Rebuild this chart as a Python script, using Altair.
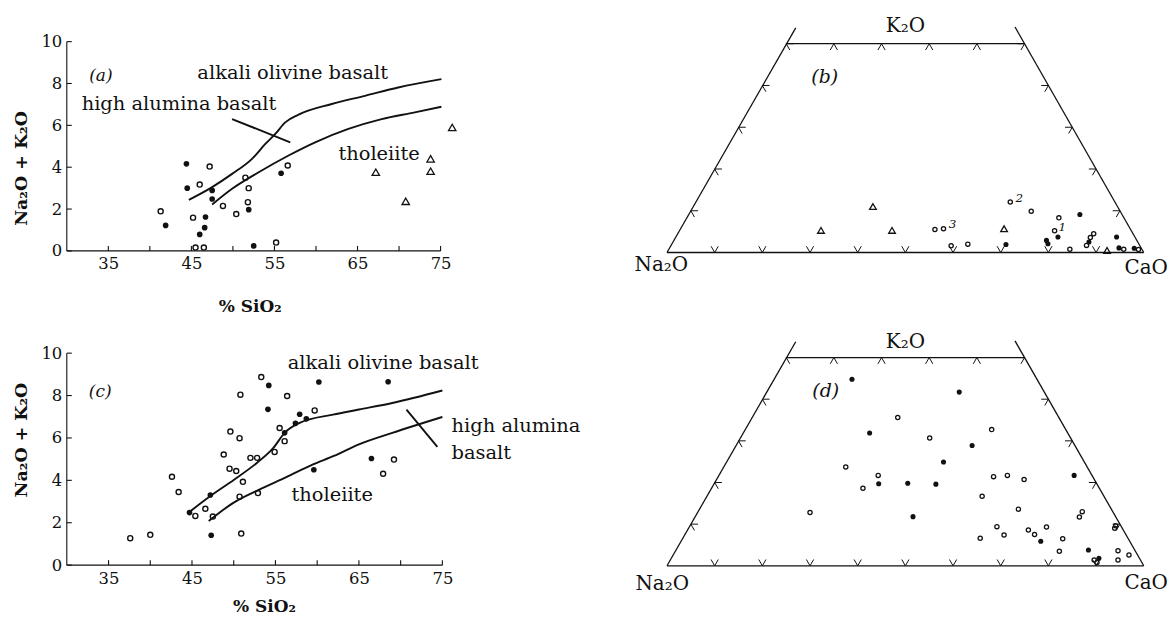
import altair as alt
import pandas as pd

FONT = "DejaVu Serif"
INK = "#111111"

# ---------------- shared axis values ----------------
sio2_labels = [35, 45, 55, 65, 75]
sio2_ticks = [35, 40, 45, 50, 55, 60, 65, 70, 75]
alk_ticks = [0, 2, 4, 6, 8, 10]

# ---------------- panel (a) ----------------
a_open_x = [47.2, 46.0, 48.8, 51.5, 51.9, 51.8, 50.4, 41.3, 45.2, 45.5, 46.5, 55.2, 56.6]
a_open_y = [4.03, 3.17, 2.15, 3.50, 3.00, 2.33, 1.76, 1.89, 1.59, 0.16, 0.16, 0.40, 4.08]
a_fill_x = [44.4, 44.5, 47.5, 47.5, 51.9, 41.9, 46.7, 46.6, 46.0, 52.5, 55.8]
a_fill_y = [4.16, 3.00, 2.89, 2.48, 1.97, 1.22, 1.62, 1.11, 0.79, 0.24, 3.71]
a_tri_x = [67.2, 70.8, 73.8, 73.8, 76.4]
a_tri_y = [3.76, 2.37, 3.81, 4.40, 5.90]
a_upper_x = [44.7, 47.5, 49.9, 52.3, 53.9, 55.1, 56.3, 57.9, 61.9, 65.9, 69.9, 75.1]
a_upper_y = [2.44, 3.05, 3.68, 4.40, 5.11, 5.59, 6.14, 6.51, 7.02, 7.41, 7.81, 8.21]
a_lower_x = [47.5, 49.9, 53.1, 56.7, 59.9, 63.9, 67.9, 71.9, 75.1]
a_lower_y = [2.22, 2.97, 3.76, 4.56, 5.19, 5.83, 6.30, 6.62, 6.89]
a_pointer_x = [49.9, 56.9]
a_pointer_y = [6.30, 5.19]

# ---------------- panel (c) ----------------
c_open_x = [37.6, 40.0, 42.6, 43.4, 45.4, 46.6, 47.5, 48.8, 49.6, 49.5, 50.3, 50.8, 50.7,
            51.1, 50.7, 50.9, 52.0, 52.8, 52.9, 53.3, 54.9, 55.5, 56.1, 56.4, 59.7, 67.9, 69.2]
c_open_y = [1.27, 1.43, 4.17, 3.45, 2.32, 2.66, 2.29, 5.22, 6.30, 4.55, 4.44, 8.04, 5.99,
            3.93, 3.23, 1.49, 5.06, 5.06, 3.40, 8.87, 5.34, 6.47, 5.85, 7.98, 7.30, 4.31, 4.98]
c_fill_x = [44.7, 47.2, 47.3, 54.2, 54.1, 56.1, 57.4, 57.9, 58.7, 59.6, 60.2, 66.5, 68.5]
c_fill_y = [2.48, 3.31, 1.41, 8.48, 7.35, 6.24, 6.69, 7.12, 6.90, 4.50, 8.64, 5.03, 8.65]
c_upper_x = [44.7, 47.2, 50.0, 52.8, 54.75, 56.1, 57.9, 61.9, 65.0, 69.0, 75.0]
c_upper_y = [2.51, 3.26, 4.02, 4.83, 5.53, 6.24, 6.71, 7.10, 7.34, 7.65, 8.24]
c_lower_x = [47.0, 50.0, 53.0, 56.3, 59.5, 62.0, 65.0, 69.0, 75.0]
c_lower_y = [2.08, 2.95, 3.55, 4.15, 4.75, 5.15, 5.70, 6.24, 6.99]
c_pointer_x = [70.7, 74.4]
c_pointer_y = [7.34, 5.58]

# ---------------- panel (b): ternary (u along base 0-10, v height 0-5) ----------------
b_open_u = [5.62, 5.80, 5.96, 6.31, 7.20, 7.64, 8.22, 8.13, 8.45, 8.95, 8.88, 8.80, 9.58, 9.89]
b_open_v = [0.55, 0.57, 0.16, 0.20, 1.21, 0.99, 0.83, 0.52, 0.08, 0.45, 0.36, 0.17, 0.08, 0.07]
b_fill_u = [7.11, 8.66, 8.20, 7.96, 7.99, 8.85, 9.43, 9.48, 9.80]
b_fill_v = [0.19, 0.91, 0.37, 0.29, 0.21, 0.25, 0.37, 0.11, 0.10]
b_tri_u = [4.32, 3.23, 4.72, 7.07, 9.23]
b_tri_v = [1.10, 0.53, 0.53, 0.57, 0.05]
b_num_text = ["3", "2", "1"]
b_num_u = [5.99, 7.39, 8.29]
b_num_v = [0.68, 1.30, 0.62]

# ---------------- panel (d): ternary ----------------
d_open_u = [3.75, 4.43, 4.11, 3.00, 4.84, 5.51, 6.81, 6.85, 7.14, 7.49, 6.61, 7.37, 8.71, 8.65, 6.92,
            6.57, 7.07, 7.58, 7.71, 7.96, 8.30, 8.23, 9.39, 9.41, 9.46, 9.69, 9.46, 8.96, 9.02]
d_open_v = [2.37, 2.17, 1.86, 1.28, 3.56, 3.07, 3.27, 2.14, 2.17, 2.07, 1.67, 1.36, 1.30, 1.17, 0.94,
            0.66, 0.74, 0.86, 0.75, 0.93, 0.65, 0.35, 0.90, 0.96, 0.36, 0.26, 0.14, 0.14, 0.08]
d_fill_u = [3.88, 4.25, 4.44, 6.13, 6.40, 5.80, 5.05, 5.64, 8.54, 5.16, 7.84, 8.84, 9.06]
d_fill_v = [4.48, 3.19, 1.97, 4.17, 2.89, 2.49, 1.98, 1.96, 2.17, 1.18, 0.59, 0.38, 0.18]

# ternary frame (trapezoid) and tick positions
edge_u = [0.0, 2.5, 0.0, 10.0]
edge_v = [0.0, 5.0, 0.0, 0.0]
edge_u2 = [10.0, 7.5, 2.7, 7.3]
edge_v2 = [0.0, 5.0, 5.38, 5.4]
base_tick_u = [1, 2, 3, 4, 5, 6, 7, 8, 9]
top_tick_u = [3.5, 4.5, 5.5, 6.5]
side_tick_v = [1, 2, 3, 4, 5]

# ---------------- layout (pixels per data unit) ----------------
COL1_W = 563.5
A_PX, A_PY, A_H = 8.335, 21.0, 237.7
C_PX, C_PY, C_H = 8.375, 21.27, 238.0
T_PU, T_PV = 47.84, 41.9
T_W = 535.8
B_H = 315.0
D_PV = 41.8
D_H = 272.1


def df_xy(xs, ys):
    return pd.DataFrame({"x": xs, "y": ys})


def scatter_panel(open_xy, fill_xy, tri_xy, lines, labels, px, py, h,
                  ytitle_y, xtitle_x, xtitle_y, xlabpad, lab_size):
    xs = alt.Scale(domain=[30, 30 + COL1_W / px], nice=False, zero=False)
    ys = alt.Scale(domain=[0, h / py], nice=False, zero=False)
    xa = alt.Axis(values=sio2_labels, format="d", title="% SiO₂", grid=False, ticks=False,
                  tickSize=0, domain=False, labelPadding=xlabpad, labelFont=FONT,
                  labelFontSize=lab_size, labelColor=INK, labelFlush=False,
                  titleFont=FONT, titleFontSize=17, titleFontWeight="bold", titleColor=INK,
                  titleX=xtitle_x, titleY=xtitle_y, titleBaseline="middle", titleAlign="center")
    ya = alt.Axis(values=alk_ticks, format="d", title="Na₂O + K₂O", grid=False, ticks=False,
                  tickSize=0, domain=False, labelPadding=5, labelFont=FONT,
                  labelFontSize=lab_size, labelColor=INK, labelFlush=False,
                  titleFont=FONT, titleFontSize=17.5, titleFontWeight="bold", titleColor=INK,
                  titleX=-45, titleY=ytitle_y, titleAngle=270, titleBaseline="middle",
                  titleAlign="center")

    def X():
        return alt.X("x:Q", scale=xs, axis=xa)

    def Y():
        return alt.Y("y:Q", scale=ys, axis=ya)

    tick_len_y = 5.0 / py
    tick_len_x = 5.0 / px
    rules = pd.DataFrame(
        [{"x": 30, "x2": 75, "y": 0, "y2": 0}, {"x": 30, "x2": 30, "y": 0, "y2": 10}]
        + [{"x": t, "x2": t, "y": 0, "y2": tick_len_y} for t in sio2_ticks]
        + [{"x": 30, "x2": 30 + tick_len_x, "y": t, "y2": t} for t in alk_ticks]
    )
    layers = [
        alt.Chart(rules).mark_rule(color=INK, strokeWidth=1.1).encode(
            x=X(), x2="x2:Q", y=Y(), y2="y2:Q"),
        alt.Chart(lines).mark_line(color=INK, strokeWidth=1.9, interpolate="monotone").encode(
            x=X(), y=Y(), detail="line:N"),
        alt.Chart(open_xy).mark_point(shape="circle", filled=False, size=26, strokeWidth=1.4,
                                      color=INK, opacity=1).encode(x=X(), y=Y()),
        alt.Chart(fill_xy).mark_circle(size=32, color=INK, opacity=1).encode(x=X(), y=Y()),
    ]
    if tri_xy is not None:
        layers.append(
            alt.Chart(tri_xy).mark_point(shape="triangle-up", filled=False, size=55,
                                         strokeWidth=1.3, color=INK, opacity=1).encode(x=X(), y=Y()))
    for (txt, x, y, size, align, style) in labels:
        layers.append(
            alt.Chart(pd.DataFrame({"x": [x], "y": [y], "t": [txt]})).mark_text(
                font=FONT, fontSize=size, align=align, baseline="middle", fontStyle=style,
                color=INK).encode(x=X(), y=Y(), text="t:N"))
    return alt.layer(*layers).properties(width=COL1_W, height=h)


def lines_df(upper_x, upper_y, lower_x, lower_y, ptr_x, ptr_y):
    rows = []
    for name, xs_, ys_ in (("upper", upper_x, upper_y), ("lower", lower_x, lower_y),
                           ("pointer", ptr_x, ptr_y)):
        for x, y in zip(xs_, ys_):
            rows.append({"x": x, "y": y, "line": name})
    return pd.DataFrame(rows)


A = scatter_panel(
    df_xy(a_open_x, a_open_y), df_xy(a_fill_x, a_fill_y), df_xy(a_tri_x, a_tri_y),
    lines_df(a_upper_x, a_upper_y, a_lower_x, a_lower_y, a_pointer_x, a_pointer_y),
    [("(a)", 34.1, 8.37, 17, "center", "italic"),
     ("alkali olivine basalt", 57.2, 8.48, 19.5, "center", "normal"),
     ("high alumina basalt", 43.5, 7.02, 19.5, "center", "normal"),
     ("tholeiite", 67.6, 4.64, 19.5, "center", "normal")],
    A_PX, A_PY, A_H, ytitle_y=154.5, xtitle_x=183.5, xtitle_y=56, xlabpad=5, lab_size=16.5)

C = scatter_panel(
    df_xy(c_open_x, c_open_y), df_xy(c_fill_x, c_fill_y), None,
    lines_df(c_upper_x, c_upper_y, c_lower_x, c_lower_y, c_pointer_x, c_pointer_y),
    [("(c)", 34.0, 8.18, 17, "center", "italic"),
     ("alkali olivine basalt", 67.9, 9.55, 19.5, "center", "normal"),
     ("high alumina", 76.1, 6.54, 19.5, "left", "normal"),
     ("basalt", 76.1, 5.29, 19.5, "left", "normal"),
     ("tholeiite", 61.8, 3.33, 19.5, "center", "normal")],
    C_PX, C_PY, C_H, ytitle_y=112, xtitle_x=197.8, xtitle_y=42, xlabpad=5, lab_size=16.5)

CHEV_BASE = "M-0.5,-0.87L0,0L0.5,-0.87"
CHEV_TOP = "M-0.5,0.87L0,0L0.5,0.87"
CHEV_LEFT = "M1,0L0,0L0.5,0.87"
CHEV_RIGHT = "M-1,0L0,0L-0.5,0.87"


def ternary_panel(open_u, open_v, fill_u, fill_v, tri_u, tri_v, vdom, h, labels, nums):
    us = alt.Scale(domain=[-0.8, 10.4], nice=False, zero=False)
    vs = alt.Scale(domain=vdom, nice=False, zero=False)

    def U():
        return alt.X("x:Q", scale=us, axis=None)

    def V():
        return alt.Y("y:Q", scale=vs, axis=None)

    edges = pd.DataFrame({"x": edge_u, "y": edge_v, "x2": edge_u2, "y2": edge_v2})
    layers = [
        alt.Chart(edges).mark_rule(color=INK, strokeWidth=1.3).encode(
            x=U(), y=V(), x2="x2:Q", y2="y2:Q")
    ]
    tick_sets = [
        (df_xy(base_tick_u, [0] * len(base_tick_u)), CHEV_BASE),
        (df_xy(top_tick_u, [5] * len(top_tick_u)), CHEV_TOP),
        (df_xy([v / 2 for v in side_tick_v], side_tick_v), CHEV_LEFT),
        (df_xy([10 - v / 2 for v in side_tick_v], side_tick_v), CHEV_RIGHT),
    ]
    for d, shp in tick_sets:
        layers.append(alt.Chart(d).mark_point(shape=shp, filled=False, size=210, strokeWidth=1.0,
                                              color=INK, opacity=1).encode(x=U(), y=V()))
    layers.append(alt.Chart(df_xy(open_u, open_v)).mark_point(
        shape="circle", filled=False, size=18, strokeWidth=1.3, color=INK, opacity=1).encode(x=U(), y=V()))
    layers.append(alt.Chart(df_xy(fill_u, fill_v)).mark_circle(
        size=26, color=INK, opacity=1).encode(x=U(), y=V()))
    if tri_u:
        layers.append(alt.Chart(df_xy(tri_u, tri_v)).mark_point(
            shape="triangle-up", filled=False, size=45, strokeWidth=1.3, color=INK,
            opacity=1).encode(x=U(), y=V()))
    for (txt, x, y, size, style) in labels:
        layers.append(alt.Chart(pd.DataFrame({"x": [x], "y": [y], "t": [txt]})).mark_text(
            font=FONT, fontSize=size, align="center", baseline="middle", fontStyle=style,
            color=INK).encode(x=U(), y=V(), text="t:N"))
    if nums is not None:
        layers.append(alt.Chart(nums).mark_text(
            font=FONT, fontSize=12, align="center", baseline="middle", fontStyle="italic",
            color=INK).encode(x=U(), y=V(), text="t:N"))
    return alt.layer(*layers).properties(width=T_W, height=h)


B = ternary_panel(
    b_open_u, b_open_v, b_fill_u, b_fill_v, b_tri_u, b_tri_v,
    [-(328 - 252.3) / T_PV, (252.3 - 13) / T_PV], B_H,
    [("K₂O", 5.0, 5.42, 20, "normal"), ("Na₂O", -0.12, -0.30, 20, "normal"),
     ("CaO", 10.05, -0.37, 20, "normal"), ("(b)", 3.31, 4.21, 19, "italic")],
    pd.DataFrame({"x": b_num_u, "y": b_num_v, "t": b_num_text}))

D = ternary_panel(
    d_open_u, d_open_v, d_fill_u, d_fill_v, [], [],
    [-0.8, (566.7 - 328) / D_PV], D_H,
    [("K₂O", 5.0, 5.38, 20, "normal"), ("Na₂O", -0.10, -0.44, 20, "normal"),
     ("CaO", 10.05, -0.41, 20, "normal"), ("(d)", 3.33, 4.19, 19, "italic")],
    None)

chart = alt.concat(A, B, C, D, columns=2, spacing=0, bounds="flush", align="each").properties(
    padding={"left": 5, "top": 5, "right": 0, "bottom": 0}
).configure_view(stroke=None)

chart.save("out.html", embed_options={"renderer": "svg", "actions": False})
